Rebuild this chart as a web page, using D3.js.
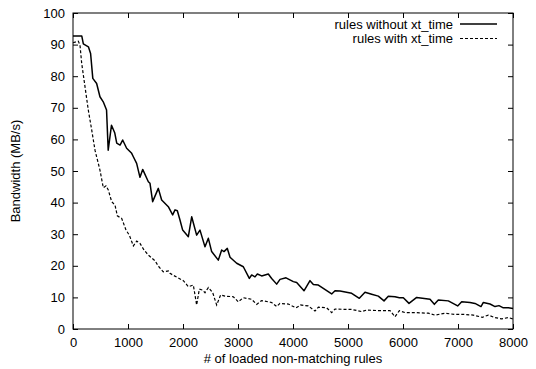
<!DOCTYPE html>
<html><head><meta charset="utf-8">
<script src="https://cdn.jsdelivr.net/npm/d3@7"></script>
<style>
body{margin:0;background:#fff;}
svg{display:block;font-family:"Liberation Sans",Arial,Helvetica,sans-serif;}
</style></head>
<body><svg id="c" width="536" height="369"></svg>
<script>
const xTicks = [0,1000,2000,3000,4000,5000,6000,7000,8000];
const yTicks = [0,10,20,30,40,50,60,70,80,90,100];
const seriesNames = ["rules without xt_time","rules with xt_time"];
const withoutX = [0,160,188,280,320,360,430,490,550,610,640,700,760,795,855,903,975,1067,1097,1157,1218,1267,1370,1400,1448,1551,1612,1733,1764,1812,1855,1897,1945,1994,2097,2158,2248,2309,2400,2461,2521,2642,2703,2745,2806,2855,2976,3097,3206,3248,3309,3352,3430,3551,3612,3703,3764,3873,4006,4067,4200,4309,4370,4461,4703,4764,4855,5067,5206,5309,5430,5551,5655,5733,5855,5933,6006,6109,6249,6491,6570,6642,6824,6994,7067,7218,7309,7418,7461,7582,7673,7745,7824,7915,8000];
const withoutY = [92.7,92.7,90.2,89.3,87.2,79.3,77.7,73.5,71.9,69.3,56.6,64.5,62,58.8,58.2,59.8,57.2,55.6,54.5,52.4,48.0,50.5,46.6,46.1,40.3,44.5,40.8,38.7,37.7,36.1,37.7,37.4,34.5,31.3,29.2,35.5,29.7,31.3,26.0,28.7,24.5,21.8,25.0,24.5,25.5,22.7,20.8,19.7,16.0,17.1,16.5,17.4,16.8,17.4,16.0,14.2,15.7,16.2,15.0,14.7,12.1,15.3,14.1,13.9,11.1,12.1,12.0,11.3,9.7,11.6,11.0,10.4,8.9,10.4,10.2,9.9,9.9,8.1,10.0,9.4,7.8,9.2,8.9,7.3,8.6,8.4,8.1,7.1,8.4,7.9,7.1,7.4,6.7,6.7,6.5];
const withX = [0,96,127,158,218,278,340,400,430,490,551,600,642,703,764,806,885,964,1024,1097,1158,1218,1291,1370,1491,1552,1642,1733,1764,1885,2006,2097,2188,2248,2297,2358,2400,2461,2540,2612,2685,2764,2915,3006,3097,3248,3340,3430,3612,3703,3764,3915,4055,4140,4278,4400,4461,4612,4703,4764,4976,5067,5248,5340,5582,5764,5855,5933,6036,6218,6460,6582,6764,6945,7127,7278,7442,7551,7673,7794,7915,8000];
const withY = [90.6,91.1,89.9,84.1,76.7,69.3,63,56.6,54.5,50.3,44.7,45.3,44,40.3,39.2,35.8,35.0,31.3,29.7,26.3,27.8,27.1,25.0,23.4,21.6,19.9,18.1,18.4,17.6,16.4,15.3,13.4,13.9,7.6,12.6,12.3,11.5,13.1,11.5,7.6,10.8,10.4,10.2,8.6,9.9,9.4,7.8,9.0,8.4,7.1,8.1,7.9,6.7,7.6,7.3,5.7,6.9,6.7,5.2,6.3,6.2,6.2,5.5,6.0,5.8,5.8,3.9,5.8,5.2,5.2,5.0,4.4,5.0,4.6,4.6,4.4,3.7,4.4,3.6,3.2,3.6,3.2];

const L=73,R=513,T=13,B=329;
const svg=d3.select("#c");
const x=d3.scaleLinear().domain([0,8000]).range([L,R]);
const y=d3.scaleLinear().domain([0,100]).range([B,T]);
const fs=13;

// axes with inward ticks
const ax = (g)=>g.selectAll(".domain").remove();
svg.append("g").attr("transform",`translate(0,${B})`)
  .call(d3.axisBottom(x).tickValues(xTicks).tickSize(-5).tickPadding(9).tickFormat(d3.format("d")))
  .call(ax).call(g=>g.selectAll("text").attr("font-size",fs).attr("font-family","Liberation Sans, Arial, sans-serif").attr("fill","#000"));
svg.append("g").attr("transform",`translate(0,${T})`)
  .call(d3.axisTop(x).tickValues(xTicks).tickSize(-5).tickFormat(""))
  .call(ax);
svg.append("g").attr("transform",`translate(${L},0)`)
  .call(d3.axisLeft(y).tickValues(yTicks).tickSize(-5).tickPadding(8))
  .call(ax).call(g=>g.selectAll("text").attr("font-size",fs).attr("font-family","Liberation Sans, Arial, sans-serif").attr("fill","#000"));
svg.append("g").attr("transform",`translate(${R},0)`)
  .call(d3.axisRight(y).tickValues(yTicks).tickSize(-5).tickFormat(""))
  .call(ax);
svg.selectAll(".tick line").attr("stroke","#000");

// frame
svg.append("rect").attr("x",L).attr("y",T).attr("width",R-L).attr("height",B-T)
  .attr("fill","none").attr("stroke","#000").attr("stroke-width",1);

const line=d3.line().x(d=>x(d[0])).y(d=>y(d[1]));
const s1=withoutX.map((v,i)=>[v,withoutY[i]]);
const s2=withX.map((v,i)=>[v,withY[i]]);
svg.append("path").datum(s1).attr("d",line).attr("fill","none").attr("stroke","#000").attr("stroke-width",1.5).attr("stroke-linejoin","round");
svg.append("path").datum(s2).attr("d",line).attr("fill","none").attr("stroke","#000").attr("stroke-width",1.2).attr("stroke-dasharray","3,2");

// legend
const lg=svg.append("g");
[0,1].forEach(i=>{
  const yy=24+i*14.5;
  lg.append("text").attr("x",453).attr("y",yy+4.5).attr("text-anchor","end").attr("font-size",fs).text(seriesNames[i]);
  lg.append("line").attr("x1",460).attr("x2",497).attr("y1",yy).attr("y2",yy).attr("stroke","#000")
    .attr("stroke-width",i?1.2:1.5).attr("stroke-dasharray",i?"3,2":null);
});

// axis titles
svg.append("text").attr("x",(L+R)/2).attr("y",363).attr("text-anchor","middle").attr("font-size",fs).text("# of loaded non-matching rules");
svg.append("text").attr("transform",`translate(20,${(T+B)/2}) rotate(-90)`).attr("text-anchor","middle").attr("font-size",fs).text("Bandwidth (MB/s)");
</script></body></html>
